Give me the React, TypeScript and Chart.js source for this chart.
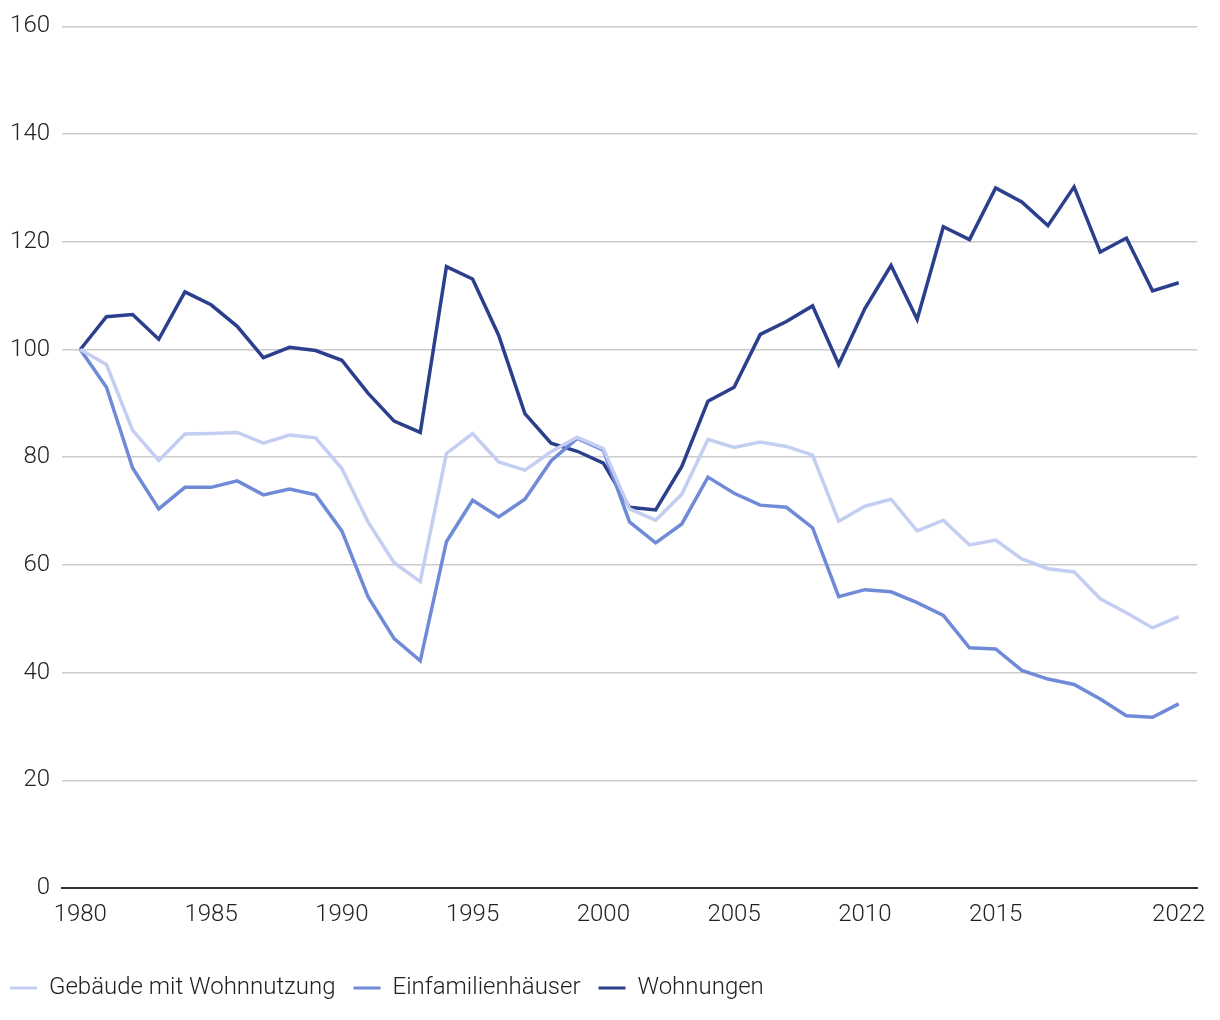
import React, { useEffect, useRef } from "react";
import { Chart, registerables } from "chart.js";

Chart.register(...registerables);

const years: number[] = Array.from({ length: 43 }, (_, i) => 1980 + i);
const xTickYears: number[] = [1980, 1985, 1990, 1995, 2000, 2005, 2010, 2015, 2022];
const yTicks: number[] = [0, 20, 40, 60, 80, 100, 120, 140, 160];

const gebaeude: number[] = [
  100, 97.2, 85.0, 79.4, 84.3, 84.4, 84.6, 82.6, 84.1, 83.6,
  77.9, 68.0, 60.4, 56.9, 80.7, 84.4, 79.1, 77.6, 81.0, 83.7,
  81.6, 70.4, 68.3, 73.1, 83.3, 81.8, 82.8, 82.0, 80.4, 68.1,
  70.9, 72.2, 66.3, 68.3, 63.7, 64.6, 61.1, 59.3, 58.7, 53.7,
  51.1, 48.3, 50.4,
];
const einfamilien: number[] = [
  100, 93.0, 78.0, 70.4, 74.4, 74.4, 75.6, 73.0, 74.1, 73.0,
  66.3, 54.1, 46.3, 42.2, 64.3, 72.0, 68.9, 72.2, 79.3, 83.5,
  81.3, 68.0, 64.1, 67.6, 76.3, 73.3, 71.1, 70.7, 66.9, 54.1,
  55.4, 55.0, 53.0, 50.6, 44.6, 44.4, 40.4, 38.8, 37.8, 35.1,
  32.0, 31.7, 34.2,
];
const wohnungen: number[] = [
  100, 106.1, 106.5, 101.9, 110.7, 108.3, 104.3, 98.5, 100.4, 99.8,
  98.0, 91.9, 86.7, 84.6, 115.4, 113.1, 102.6, 88.1, 82.6, 81.1,
  78.9, 70.7, 70.2, 78.3, 90.4, 93.0, 102.8, 105.2, 108.1, 97.2,
  107.6, 115.6, 105.6, 122.8, 120.4, 130.0, 127.4, 123.0, 130.2, 118.1,
  120.7, 110.9, 112.4,
];

const seriesNames = ["Gebäude mit Wohnnutzung", "Einfamilienhäuser", "Wohnungen"];
const seriesColors = ["#c3cef2", "#6f8bd7", "#2b3f8c"];

const FONT = "Roboto, 'Noto Sans', sans-serif";
const FONT_SIZE = 24;

export default function App() {
  const ref = useRef<HTMLCanvasElement | null>(null);

  useEffect(() => {
    document.body.style.margin = "0";
    const canvas = ref.current;
    if (!canvas) return;
    const allSeries = [gebaeude, einfamilien, wohnungen];
    const chart = new Chart(canvas, {
      type: "line",
      data: {
        datasets: allSeries.map((vals, s) => ({
          label: seriesNames[s],
          data: years.map((yr, i) => ({ x: yr, y: vals[i] })),
          borderColor: seriesColors[s],
          backgroundColor: seriesColors[s],
          borderWidth: 3.5,
          pointRadius: 0,
          tension: 0,
          fill: false,
        })),
      },
      options: {
        animation: false,
        responsive: false,
        maintainAspectRatio: false,
        layout: { padding: { top: 24, right: 23, bottom: 10, left: -8 } },
        plugins: {
          tooltip: { enabled: false },
          legend: {
            position: "bottom",
            align: "start",
            labels: {
              boxWidth: 27,
              boxHeight: 3,
              padding: 18,
              color: "#222",
              font: { family: FONT, size: FONT_SIZE, weight: "300" as any },
              generateLabels: (c: any) =>
                Chart.defaults.plugins.legend.labels
                  .generateLabels(c)
                  .map((it: any) => ({ ...it, lineWidth: 0, strokeStyle: "rgba(0,0,0,0)" })),
            },
          },
        },
        scales: {
          x: {
            type: "linear",
            min: 1979.3,
            max: 2022.7,
            afterBuildTicks: (axis: any) => {
              axis.ticks = xTickYears.map((v) => ({ value: v }));
            },
            afterFit: (axis: any) => {
              axis.height = 70;
            },
            grid: { display: false, drawTicks: false },
            border: { display: true, color: "#333", width: 2 },
            ticks: {
              autoSkip: false,
              maxRotation: 0,
              padding: 13,
              color: "#222",
              font: { family: FONT, size: FONT_SIZE, weight: "300" as any },
              callback: (v: any) => String(v),
            },
          },
          y: {
            min: 0,
            max: 160,
            afterBuildTicks: (axis: any) => {
              axis.ticks = yTicks.map((v) => ({ value: v }));
            },
            afterFit: (axis: any) => {
              axis.width = 70;
            },
            grid: {
              drawTicks: false,
              color: (ctx: any) => (ctx.tick && ctx.tick.value === 0 ? "rgba(0,0,0,0)" : "#cccccc"),
              lineWidth: 1.5,
            },
            border: { display: false },
            ticks: {
              padding: 12,
              color: "#222",
              font: { family: FONT, size: FONT_SIZE, weight: "300" as any },
              callback: (v: any) => String(v),
            },
          },
        },
      },
    });
    return () => chart.destroy();
  }, []);

  return (
    <div style={{ width: 1220, height: 1020 }}>
      <canvas ref={ref} width={1220} height={1020} style={{ width: 1220, height: 1020, display: "block" }} />
    </div>
  );
}
